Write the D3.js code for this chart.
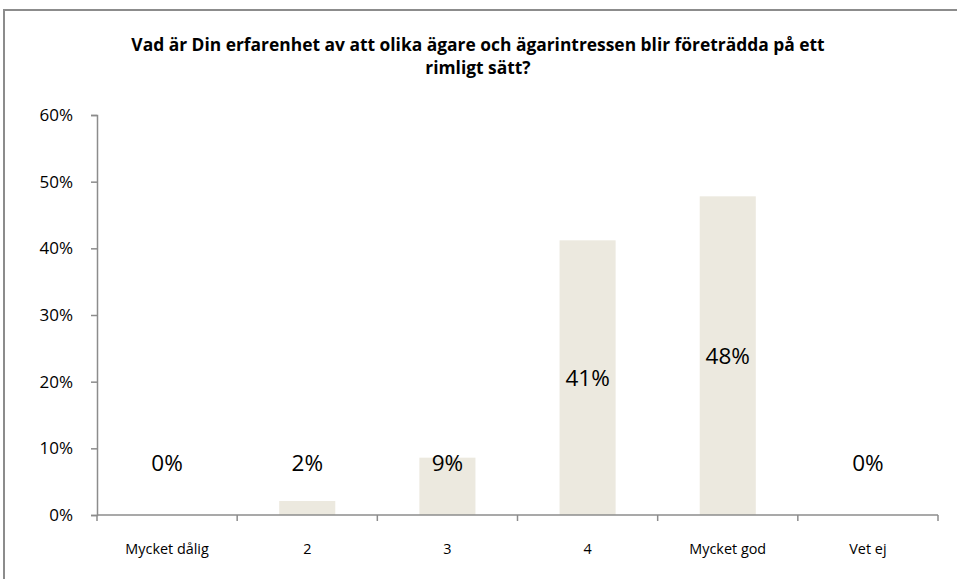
<!DOCTYPE html>
<html>
<head>
<meta charset="utf-8">
<script src="https://cdn.jsdelivr.net/npm/d3@7"></script>
<style>
  body { margin: 0; background: #fff; }
  svg { display: block; font-family: "Open Sans", sans-serif; }
</style>
</head>
<body>
<div id="chart"></div>
<script>
// data
const categories = ['Mycket dålig', '2', '3', '4', 'Mycket god', 'Vet ej']
const values = [0, 0.021, 0.086, 0.412, 0.478, 0]
const labels = ['0%', '2%', '9%', '41%', '48%', '0%']
const yTicks = [0, 0.1, 0.2, 0.3, 0.4, 0.5, 0.6]
const titleLines = [
	'Vad är Din erfarenhet av att olika ägare och ägarintressen blir företrädda på ett',
	'rimligt sätt?',
]

const width = 957
const height = 579
const margin = { top: 115, right: 19, bottom: 64, left: 97 }
const axisColor = '#8c8c8c'

const svg = d3.select('#chart')
	.append('svg')
	.attr('width', width)
	.attr('height', height)

// outer frame, runs off the right and bottom edges
svg.append('rect')
	.attr('x', 4)
	.attr('y', 10)
	.attr('width', width + 20)
	.attr('height', height + 20)
	.attr('fill', 'none')
	.attr('stroke', axisColor)
	.attr('stroke-width', 2)

// title, one text per line
svg.selectAll('text.title')
	.data(titleLines)
	.join('text')
	.attr('class', 'title')
	.attr('text-anchor', 'middle')
	.attr('font-weight', 'bold')
	.attr('font-size', 17.4)
	.attr('fill', '#000')
	.attr('x', 478)
	.attr('y', (d, i) => 51 + i * 23)
	.text(d => d)

const x = d3.scaleBand()
	.domain(categories)
	.range([margin.left, width - margin.right])
	.paddingInner(0.6)
	.paddingOuter(0.3)

const y = d3.scaleLinear()
	.domain([0, 0.6])
	.range([height - margin.bottom, margin.top])

const g = svg.append('g')

// bars
g.selectAll('rect.bar')
	.data(values)
	.join('rect')
	.attr('class', 'bar')
	.attr('x', (d, i) => x(categories[i]))
	.attr('width', x.bandwidth())
	.attr('y', d => y(d))
	.attr('height', d => y(0) - y(d))
	.attr('fill', '#ece9df')

// y axis
const yAxis = g.append('g')
	.attr('transform', `translate(${margin.left},0)`)
	.call(d3.axisLeft(y).tickValues(yTicks).tickFormat(d3.format('.0%')).tickSizeOuter(0).tickSize(6).tickPadding(18))
yAxis.selectAll('path, line').attr('stroke', axisColor).attr('stroke-width', 1.5)
yAxis.selectAll('text').attr('font-size', 17).attr('fill', '#000').attr('font-family', '"Open Sans", sans-serif')

// x axis, ticks sit between the categories
const xEdges = d3.range(categories.length + 1).map(i => margin.left + i * (width - margin.left - margin.right) / categories.length)
const xAxis = g.append('g')
	.attr('transform', `translate(0,${y(0)})`)
xAxis.append('line')
	.attr('x1', margin.left)
	.attr('x2', width - margin.right)
	.attr('stroke', axisColor)
	.attr('stroke-width', 1.5)
xAxis.selectAll('line.tick')
	.data(xEdges)
	.join('line')
	.attr('class', 'tick')
	.attr('x1', d => d)
	.attr('x2', d => d)
	.attr('y1', 0)
	.attr('y2', 6)
	.attr('stroke', axisColor)
	.attr('stroke-width', 1.5)
xAxis.selectAll('text')
	.data(categories)
	.join('text')
	.attr('x', d => x(d) + x.bandwidth() / 2)
	.attr('y', 39)
	.attr('text-anchor', 'middle')
	.attr('font-size', 14.4)
	.attr('fill', '#000')
	.text(d => d)

// data labels: centred in the bar, lifted above short bars
g.selectAll('text.label')
	.data(values)
	.join('text')
	.attr('class', 'label')
	.attr('x', (d, i) => x(categories[i]) + x.bandwidth() / 2)
	.attr('y', d => Math.min(y(d / 2), y(0) - 52))
	.attr('dy', '0.35em')
	.attr('text-anchor', 'middle')
	.attr('font-size', 22.5)
	.attr('fill', '#000')
	.text((d, i) => labels[i])
</script>
</body>
</html>
